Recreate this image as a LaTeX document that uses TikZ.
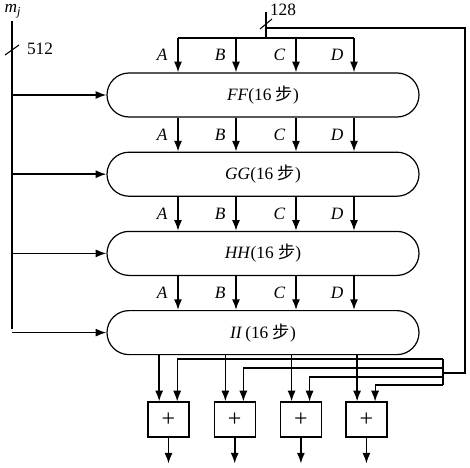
\documentclass[tikz,border=0pt]{standalone}
\usepackage{fontspec}
\setmainfont{Liberation Serif}
\newfontfamily\cjk{Noto Sans CJK SC}
\usetikzlibrary{arrows.meta,positioning,shapes.misc}

\begin{document}
\begin{tikzpicture}[x=0.75pt,y=-0.75pt,>={Latex[length=8pt,width=6pt]},font=\fontsize{13}{15}\selectfont]
\tikzstyle{round}=[draw, rounded rectangle, line width=0.9pt, minimum width=234pt, minimum height=33pt, inner sep=0pt]
\tikzstyle{adder}=[draw, line width=0.9pt, minimum width=30.75pt, minimum height=26.25pt, inner sep=0pt, font=\fontsize{18}{18}\selectfont]
\tikzstyle{bus}=[line width=1.2pt]
\tikzstyle{fb}=[line width=0.8pt]
\useasboundingbox (0,0) rectangle (470,467);

% the four rounds
\node[round] (ff) at (263,95) {\textit{FF}(16 {\cjk 步})};
\node[round, below=25.5pt of ff] (gg) {\textit{GG}(16 {\cjk 步})};
\node[round, below=25.5pt of gg] (hh) {\textit{HH}(16 {\cjk 步})};
\node[round, below=25.5pt of hh] (ii) {\textit{II}\,(16 {\cjk 步})};

% adders
\node[adder] (add1) at (168.5,419.5) {+};
\node[adder, right=18pt of add1] (add2) {+};
\node[adder, right=18pt of add2] (add3) {+};
\node[adder, right=17.5pt of add3] (add4) {+};

% message input
\node[inner sep=0pt] (mj) at (13,11) {\textit{m}\textsubscript{\textit{j}}};
\node (n512) at (40,49) {512};
\coordinate (mtop) at (12,21);
\coordinate (mbot) at (12,329);
\draw[bus] (mtop) -- (mbot);
\draw[fb] (5,55) -- (19,45);
\foreach \r in {ff,gg,hh,ii}
  \draw[bus,->] (mtop |- \r.west) -- (\r.west);

% chaining value input
\node (n128) at (283,10) {128};
\coordinate (cv) at (266,12);
\coordinate (cvj) at (266,38);
\coordinate (ta) at (178,38);
\coordinate (tb) at (236,38);
\coordinate (tc) at (296,38);
\coordinate (td) at (354,38);
\draw[bus] (cv) -- (cvj);
\draw[bus] (ta) -- (td);
\draw[fb] (260,29) -- (272,19);
\foreach \c/\t in {ta/A,tb/B,tc/C,td/D}
  \draw[bus,->] (\c) -- (ff.north -| \c) node[midway, left=4pt]{\textit{\t}};
\foreach \u/\v in {ff/gg,gg/hh,hh/ii}
  \foreach \c/\t in {ta/A,tb/B,tc/C,td/D}
    \draw[bus,->] (\u.south -| \c) -- (\v.north -| \c) node[midway, left=4pt]{\textit{\t}};

% feed forward
\coordinate (fbs) at (266,28);
\coordinate (fbc) at (465,28);
\coordinate (fbd) at (465,373);
\coordinate (fbj) at (443,373);
\coordinate (fb1) at (443,359);
\coordinate (fb2) at (443,368);
\coordinate (fb3) at (443,377);
\coordinate (fb4) at (443,385);
\draw[fb] (fbs) -- (fbc) -- (fbd) -- (fbj);
\draw[fb] (fb1) -- (fb4);

\foreach \i in {1,2,3,4} {
  \coordinate (l\i) at ([xshift=-7pt]add\i.north);
  \coordinate (r\i) at ([xshift=6.5pt]add\i.north);
  \coordinate[below=19.5pt of add\i] (out\i);
  \draw[bus,->] (ii.south -| l\i) -- (l\i);
  \draw[fb,->] (fb\i) -| (r\i);
  \draw[bus,->] (add\i.south) -- (out\i);
}
\end{tikzpicture}
\end{document}
